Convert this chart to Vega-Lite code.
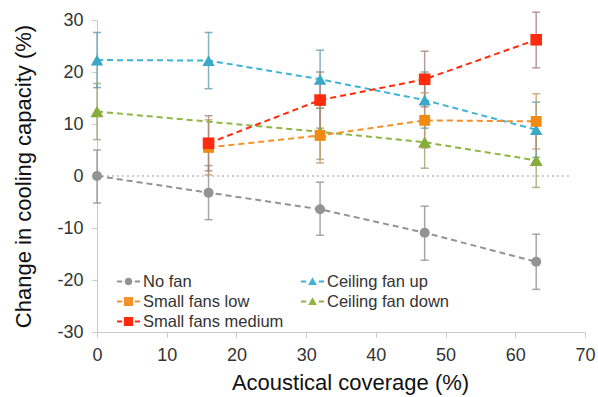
{
  "$schema": "https://vega.github.io/schema/vega-lite/v6.json",
  "width": 488,
  "height": 312,
  "autosize": "none",
  "padding": {"left": 97, "top": 20, "right": 13, "bottom": 65},
  "background": "white",
  "config": {
    "view": {"stroke": null},
    "font": "Liberation Sans",
    "axis": {"grid": false, "domainColor": "#c8c8c8", "tickColor": "#c8c8c8", "labelColor": "#333333", "titleColor": "#111111", "labelFontSize": 18, "titleFontSize": 22, "titleFontWeight": "normal", "tickSize": 5, "labelFlush": false}
  },
  "data": {"values": [
    {"series": "Ceiling fan down", "x": 0, "y": 12.4, "lo": 7.0, "hi": 17.8},
    {"series": "Ceiling fan down", "x": 32, "y": 8.5, "lo": 3.2, "hi": 13.8},
    {"series": "Ceiling fan down", "x": 47, "y": 6.5, "lo": 1.5, "hi": 11.6},
    {"series": "Ceiling fan down", "x": 63, "y": 3.0, "lo": -2.2, "hi": 8.2},
    {"series": "Ceiling fan up", "x": 0, "y": 22.3, "lo": 17.0, "hi": 27.6},
    {"series": "Ceiling fan up", "x": 16, "y": 22.2, "lo": 16.8, "hi": 27.6},
    {"series": "Ceiling fan up", "x": 32, "y": 18.6, "lo": 13.0, "hi": 24.2},
    {"series": "Ceiling fan up", "x": 47, "y": 14.6, "lo": 9.2, "hi": 20.0},
    {"series": "Ceiling fan up", "x": 63, "y": 8.9, "lo": 3.6, "hi": 14.2},
    {"series": "No fan", "x": 0, "y": 0, "lo": -5.2, "hi": 5.0},
    {"series": "No fan", "x": 16, "y": -3.2, "lo": -8.4, "hi": 2.0},
    {"series": "No fan", "x": 32, "y": -6.4, "lo": -11.4, "hi": -1.2},
    {"series": "No fan", "x": 47, "y": -10.9, "lo": -16.2, "hi": -5.8},
    {"series": "No fan", "x": 63, "y": -16.5, "lo": -21.8, "hi": -11.2},
    {"series": "Small fans low", "x": 16, "y": 5.5, "lo": 0.2, "hi": 10.8},
    {"series": "Small fans low", "x": 32, "y": 7.8, "lo": 2.5, "hi": 13.1},
    {"series": "Small fans low", "x": 47, "y": 10.7, "lo": 5.4, "hi": 16.0},
    {"series": "Small fans low", "x": 63, "y": 10.5, "lo": 5.2, "hi": 15.8},
    {"series": "Small fans medium", "x": 16, "y": 6.3, "lo": 1.0, "hi": 11.6},
    {"series": "Small fans medium", "x": 32, "y": 14.6, "lo": 9.2, "hi": 20.0},
    {"series": "Small fans medium", "x": 47, "y": 18.6, "lo": 13.3, "hi": 24.0},
    {"series": "Small fans medium", "x": 63, "y": 26.2, "lo": 20.8, "hi": 31.5}
  ]},
  "layer": [
    {
      "data": {"values": [{"a": 0, "b": 68, "z": 0}]},
      "mark": {"type": "rule", "color": "#bdbdbd", "strokeDash": [2, 3], "strokeWidth": 1.5},
      "encoding": {
        "x": {"field": "a", "type": "quantitative", "title": "Acoustical coverage (%)", "scale": {"domain": [0, 70]},
          "axis": {"values": [0, 10, 20, 30, 40, 50, 60, 70], "labelPadding": 9, "titlePadding": 8, "titleX": 253}},
        "x2": {"field": "b"},
        "y": {"field": "z", "type": "quantitative", "title": "Change in cooling capacity (%)", "scale": {"domain": [-30, 30]},
          "axis": {"values": [-30, -20, -10, 0, 10, 20, 30], "labelPadding": 9, "titlePadding": 21, "labelExpr": "replace(datum.label, '\u2212', '-')"}}
      }
    },
    {
      "mark": {"type": "rule", "strokeWidth": 1.5, "opacity": 0.75},
      "encoding": {
        "x": {"field": "x", "type": "quantitative", "title": "Acoustical coverage (%)"},
        "y": {"field": "lo", "type": "quantitative", "title": "Change in cooling capacity (%)"},
        "y2": {"field": "hi"},
        "color": {"field": "series", "type": "nominal", "legend": null, "scale": {"domain": ["No fan", "Small fans low", "Small fans medium", "Ceiling fan up", "Ceiling fan down"], "range": ["#8a8a8a", "#c39466", "#a47b75", "#5b9aaa", "#93a06a"]}}
      }
    },
    {
      "mark": {"type": "tick", "orient": "horizontal", "size": 8, "thickness": 1.5, "opacity": 0.75},
      "encoding": {
        "x": {"field": "x", "type": "quantitative", "title": "Acoustical coverage (%)"},
        "y": {"field": "lo", "type": "quantitative", "title": "Change in cooling capacity (%)"},
        "color": {"field": "series", "type": "nominal", "legend": null, "scale": {"domain": ["No fan", "Small fans low", "Small fans medium", "Ceiling fan up", "Ceiling fan down"], "range": ["#8a8a8a", "#c39466", "#a47b75", "#5b9aaa", "#93a06a"]}}
      }
    },
    {
      "mark": {"type": "tick", "orient": "horizontal", "size": 8, "thickness": 1.5, "opacity": 0.75},
      "encoding": {
        "x": {"field": "x", "type": "quantitative", "title": "Acoustical coverage (%)"},
        "y": {"field": "hi", "type": "quantitative", "title": "Change in cooling capacity (%)"},
        "color": {"field": "series", "type": "nominal", "legend": null, "scale": {"domain": ["No fan", "Small fans low", "Small fans medium", "Ceiling fan up", "Ceiling fan down"], "range": ["#8a8a8a", "#c39466", "#a47b75", "#5b9aaa", "#93a06a"]}}
      }
    },
    {
      "mark": {"type": "line", "strokeDash": [6, 4], "strokeWidth": 2},
      "encoding": {
        "x": {"field": "x", "type": "quantitative", "title": "Acoustical coverage (%)"},
        "y": {"field": "y", "type": "quantitative", "title": "Change in cooling capacity (%)"},
        "color": {"field": "series", "type": "nominal", "legend": null, "scale": {"domain": ["No fan", "Small fans low", "Small fans medium", "Ceiling fan up", "Ceiling fan down"], "range": ["#939393", "#f4912a", "#ff2b0c", "#3fb4d4", "#8fb544"]}},
        "detail": {"field": "series"}
      }
    },
    {
      "mark": {"type": "point", "filled": true, "opacity": 1},
      "encoding": {
        "x": {"field": "x", "type": "quantitative", "title": "Acoustical coverage (%)"},
        "y": {"field": "y", "type": "quantitative", "title": "Change in cooling capacity (%)"},
        "color": {"field": "series", "type": "nominal", "legend": null, "scale": {"domain": ["No fan", "Small fans low", "Small fans medium", "Ceiling fan up", "Ceiling fan down"], "range": ["#939393", "#f08a10", "#ff2b0c", "#3aa8c8", "#86ac3c"]}},
        "shape": {"field": "series", "type": "nominal", "legend": null,
          "scale": {"domain": ["No fan", "Small fans low", "Small fans medium", "Ceiling fan up", "Ceiling fan down"], "range": ["circle", "square", "square", "triangle-up", "triangle-up"]}},
        "size": {"field": "series", "type": "nominal", "legend": null,
          "scale": {"domain": ["No fan", "Small fans low", "Small fans medium", "Ceiling fan up", "Ceiling fan down"], "range": [100, 170, 170, 140, 140]}}
      }
    },
    {
      "mark": {"type": "point", "filled": true, "opacity": 1, "size": 529},
      "encoding": {
        "x": {"field": "nofield", "type": "quantitative", "title": "Acoustical coverage (%)"},
        "y": {"field": "nofield", "type": "quantitative", "title": "Change in cooling capacity (%)"},
        "color": {"field": "series", "type": "nominal", "title": null, "scale": {"domain": ["No fan", "Small fans low", "Small fans medium", "Ceiling fan up", "Ceiling fan down"], "range": ["#939393", "#f4912a", "#ff2b0c", "#3fb4d4", "#8fb544"]},
          "legend": {"orient": "none", "legendX": 20, "legendY": 250, "columns": 2, "columnPadding": 17, "rowPadding": -3.5, "symbolSize": 529, "symbolStrokeWidth": 0, "labelFontSize": 16.5, "labelColor": "#333333", "labelOffset": 3, "padding": 0}},
        "shape": {"field": "series", "type": "nominal", "title": null,
          "scale": {"domain": ["No fan", "Small fans low", "Small fans medium", "Ceiling fan up", "Ceiling fan down"],
            "range": [
              "M-1,-0.08H-0.55V0.08H-1Z M0.55,-0.08H1V0.08H0.55Z M0.33,0A0.33,0.33 0 1,1 -0.33,0A0.33,0.33 0 1,1 0.33,0Z",
              "M-1,-0.08H-0.55V0.08H-1Z M0.55,-0.08H1V0.08H0.55Z M-0.4,-0.4H0.4V0.4H-0.4Z",
              "M-1,-0.08H-0.55V0.08H-1Z M0.55,-0.08H1V0.08H0.55Z M-0.4,-0.4H0.4V0.4H-0.4Z",
              "M-1,-0.08H-0.55V0.08H-1Z M0.55,-0.08H1V0.08H0.55Z M0,-0.38L0.38,0.3L-0.38,0.3Z",
              "M-1,-0.08H-0.55V0.08H-1Z M0.55,-0.08H1V0.08H0.55Z M0,-0.38L0.38,0.3L-0.38,0.3Z"
            ]}}
      }
    }
  ],
  "resolve": {"scale": {"color": "independent", "shape": "independent", "size": "independent"}}
}
